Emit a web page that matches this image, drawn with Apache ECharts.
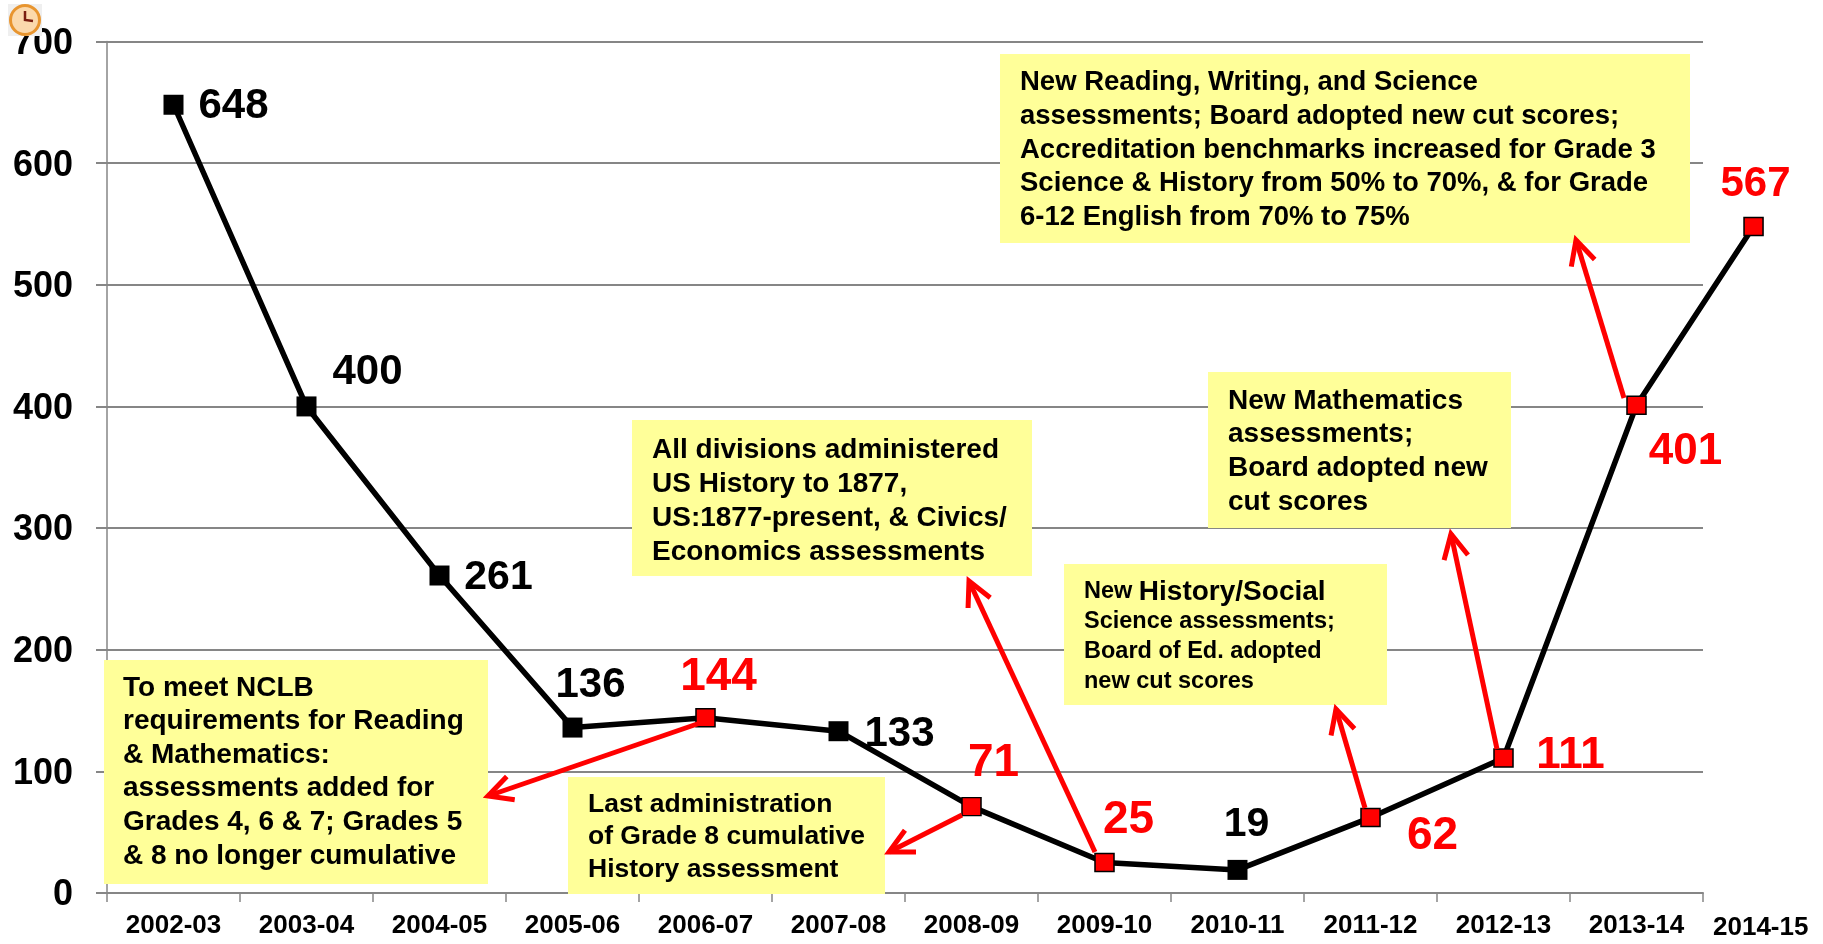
<!DOCTYPE html>
<html>
<head>
<meta charset="utf-8">
<title>Chart</title>
<script src="https://cdn.jsdelivr.net/npm/echarts@6/dist/echarts.min.js"></script>
<style>
  html, body { margin: 0; padding: 0; background: #fff; }
  #main { width: 1823px; height: 944px; }
</style>
</head>
<body>
<div id="main"></div>
<script>
// axis categories; the last school year sits off the axis in the original
const years = ["2002-03", "2003-04", "2004-05", "2005-06", "2006-07", "2007-08",
  "2008-09", "2009-10", "2010-11", "2011-12", "2012-13", "2013-14"];
const lastYear = "2014-15";
const yTicks = [0, 100, 200, 300, 400, 500, 600, 700];

const xSlots = [0.5, 1.5, 2.5, 3.5, 4.5, 5.5, 6.5, 7.5, 8.5, 9.5, 10.5, 11.5, 12.38];
const counts = [648, 400, 261, 136, 144, 133, 71, 25, 19, 62, 111, 401, 548];
// the printed number of the last point differs from where it is plotted
const printed = ["648", "400", "261", "136", "144", "133", "71", "25", "19", "62", "111", "401", "567"];
const changeYears = [4, 6, 7, 9, 10, 11, 12];

const labelOffsets = [[60, 2], [61, -34], [59, 2], [18, -42], [13, -41], [61, 3], [22, -43],
  [24, -42], [9, -45], [62, 19], [67, -2], [49, 47], [2, -42]];
const labelSizes = [42, 42, 41, 42, 46, 42, 46, 46, 41, 46, 44, 44, 42];

const FONT = '"Liberation Sans", Arial, sans-serif';

// yellow note boxes
const notes = [
  { x: 104, y: 660, w: 384, h: 224, tx: 123, ty: 671, size: 28, lh: 33.6,
    text: "To meet NCLB\nrequirements for Reading\n& Mathematics:\nassessments added for\nGrades 4, 6 & 7; Grades 5\n& 8 no longer cumulative" },
  { x: 568, y: 777, w: 317, h: 117, tx: 588, ty: 788, size: 26.5, lh: 32.5,
    text: "Last administration\nof Grade 8 cumulative\nHistory assessment" },
  { x: 632, y: 420, w: 400, h: 156, tx: 652, ty: 433, size: 28, lh: 34,
    text: "All divisions administered\nUS History to 1877,\nUS:1877-present, & Civics/\nEconomics assessments" },
  { x: 1064, y: 564, w: 323, h: 141, tx: 1084, ty: 577, size: 24, lh: 30,
    text: "{s|New }{b|History/Social}\n{s|Science assessments;}\n{s|Board of Ed. adopted}\n{s|new cut scores}" },
  { x: 1208, y: 372, w: 303, h: 156, tx: 1228, ty: 384, size: 28, lh: 33.7,
    text: "New Mathematics\nassessments;\nBoard adopted new\ncut scores" },
  { x: 1000, y: 54, w: 690, h: 189, tx: 1020, ty: 66, size: 27.5, lh: 33.6,
    text: "New Reading, Writing, and Science\nassessments; Board adopted new cut scores;\nAccreditation benchmarks increased for Grade 3\nScience & History from 50% to 70%, & for Grade\n6-12 English from 70% to 75%" }
];

// red pointers, from the marker to the tip
const pointers = [
  [703, 722, 488, 796],
  [962, 815, 889, 852],
  [1095, 852, 969, 581],
  [1365, 808, 1336, 709],
  [1497, 749, 1451, 534],
  [1624, 398, 1576, 240]
];

function noteGraphics() {
  const out = [];
  notes.forEach(function (n) {
    out.push({ type: "rect", z: 10, shape: { x: n.x, y: n.y, width: n.w, height: n.h },
      style: { fill: "#ffff99" } });
    out.push({ type: "text", z: 11, x: n.tx, y: n.ty, style: {
      text: n.text, fill: "#000", font: "bold " + n.size + "px " + FONT, lineHeight: n.lh,
      rich: {
        s: { font: "bold 23.5px " + FONT, lineHeight: n.lh, fill: "#000" },
        b: { font: "bold 28px " + FONT, lineHeight: n.lh, fill: "#000" }
      }
    } });
  });
  return out;
}

function pointerGraphics() {
  const out = [];
  const armLen = 27, spread = 0.47;
  pointers.forEach(function (p) {
    const ang = Math.atan2(p[1] - p[3], p[0] - p[2]);
    const style = { stroke: "#ff0000", lineWidth: 5, fill: null };
    out.push({ type: "line", z: 12, shape: { x1: p[0], y1: p[1], x2: p[2], y2: p[3] }, style: style });
    out.push({ type: "polyline", z: 12, shape: { points: [
      [p[2] + armLen * Math.cos(ang - spread), p[3] + armLen * Math.sin(ang - spread)],
      [p[2], p[3]],
      [p[2] + armLen * Math.cos(ang + spread), p[3] + armLen * Math.sin(ang + spread)]
    ] }, style: style });
  });
  return out;
}

// little clock badge in the corner
function clockGraphics() {
  return [
    { type: "rect", z: 20, shape: { x: 8, y: 4, width: 34, height: 32 }, style: { fill: "#efefef" } },
    { type: "circle", z: 21, shape: { cx: 25, cy: 20, r: 14.5 }, style: { fill: "#fbd9ac", stroke: "#e8952f", lineWidth: 3 } },
    { type: "polyline", z: 22, shape: { points: [[25, 11], [25, 20], [33, 21]] }, style: { stroke: "#7a1e10", lineWidth: 2.5, fill: null } }
  ];
}

const chart = echarts.init(document.getElementById("main"), null, { renderer: "canvas" });

chart.setOption({
  animation: false,
  backgroundColor: "#fff",
  textStyle: { fontFamily: FONT },
  grid: [
    { left: 107, top: 41.5, width: 1596, height: 851.5 },
    // second grid for the line, wider so the last point is not cut off
    { left: 107, top: 41.5, width: 1662.5, height: 851.5 }
  ],
  xAxis: [
    {
      type: "category",
      gridIndex: 0,
      data: years,
      boundaryGap: true,
      axisLine: { show: true, lineStyle: { color: "#868686", width: 2 } },
      axisTick: { show: true, length: 9, alignWithLabel: false, lineStyle: { color: "#868686", width: 1.5 } },
      axisLabel: { interval: 0, margin: 20, color: "#000", fontSize: 26, fontWeight: "bold", fontFamily: FONT },
      splitLine: { show: false }
    },
    { type: "value", gridIndex: 1, show: false, min: 0, max: 12.5, splitLine: { show: false } }
  ],
  yAxis: [
    {
      type: "value",
      gridIndex: 0,
      min: 0,
      max: 700,
      interval: 100,
      axisLine: { show: true, lineStyle: { color: "#868686", width: 1.5 } },
      axisTick: { show: true, length: 11, lineStyle: { color: "#868686", width: 2 } },
      axisLabel: { margin: 34,
        // top padding nudges the digits down to sit like the original
        rich: { tick: { color: "#000", fontSize: 36, fontWeight: "bold", fontFamily: FONT, padding: [5, 0, 0, 0] } },
        formatter: function (v) { return yTicks.indexOf(v) >= 0 ? "{tick|" + v + "}" : ""; } },
      splitLine: { show: true, lineStyle: { color: "#868686", width: 2 } }
    },
    { type: "value", gridIndex: 1, show: false, min: 0, max: 700, splitLine: { show: false } }
  ],
  series: [
    {
      type: "line",
      xAxisIndex: 1,
      yAxisIndex: 1,
      z: 5,
      lineStyle: { color: "#000", width: 5.5 },
      symbol: "rect",
      showAllSymbol: true,
      data: counts.map(function (v, i) {
        const red = changeYears.indexOf(i) >= 0;
        return {
          value: [xSlots[i], v],
          symbolSize: red ? [19, 18] : 20,
          itemStyle: red
            ? { color: "#ff0000", borderColor: "#000", borderWidth: 1.5 }
            : { color: "#000", borderWidth: 0 },
          label: {
            show: true,
            position: "inside",
            offset: labelOffsets[i],
            formatter: printed[i],
            color: red ? "#ff0000" : "#000",
            fontSize: labelSizes[i],
            fontWeight: "bold",
            fontFamily: FONT
          }
        };
      })
    }
  ],
  graphic: noteGraphics().concat(pointerGraphics(), clockGraphics(), [
    { type: "text", z: 11, x: 1713, y: 915, style: { text: lastYear, fill: "#000", font: "bold 26px " + FONT } }
  ])
});
</script>
</body>
</html>
